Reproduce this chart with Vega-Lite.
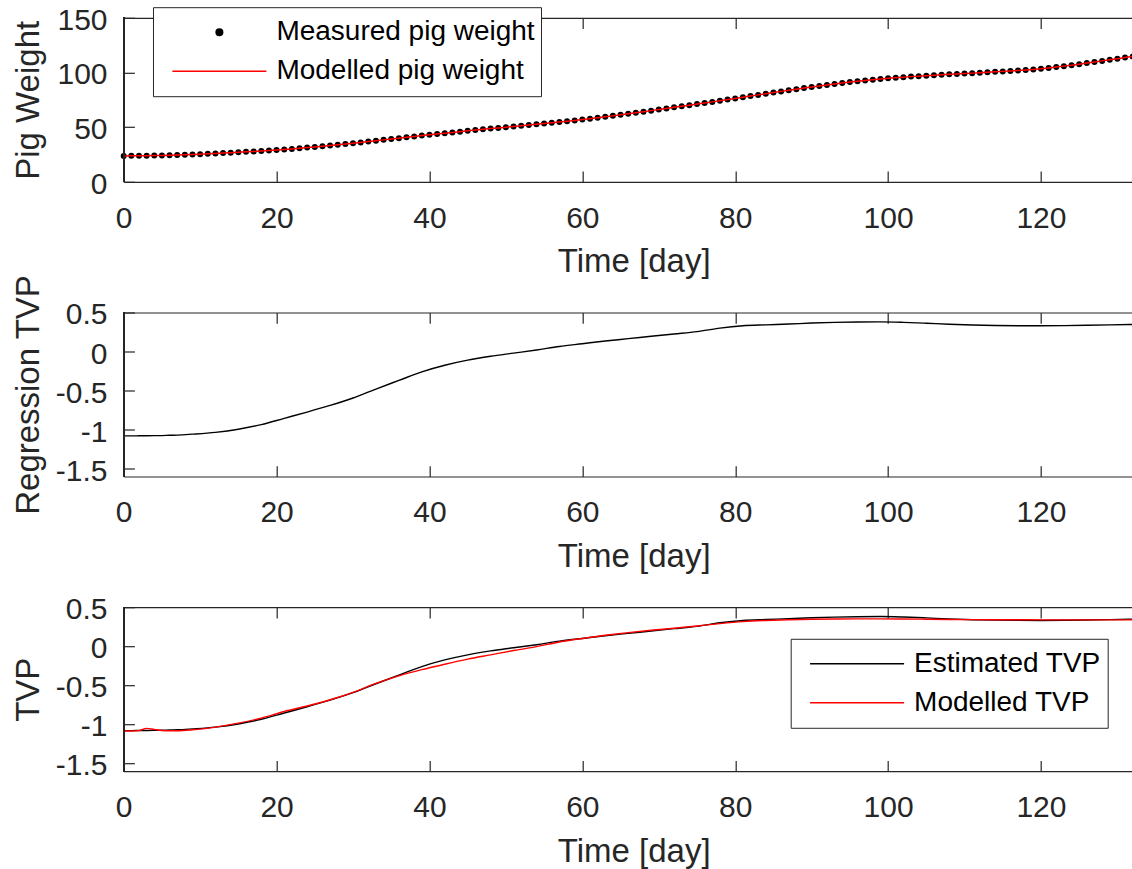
{
  "$schema": "https://vega.github.io/schema/vega-lite/v6.json",
  "autosize": {"type": "pad"},
  "padding": {"left": 11.7, "top": 4.8, "right": 0, "bottom": 0},
  "background": "white",
  "bounds": "flush",
  "spacing": 130.7,
  "resolve": {"scale": {"color": "independent"}, "legend": {"color": "independent"}},
  "config": {
    "font": "Liberation Sans",
    "view": {"stroke": null},
    "axis": {
      "grid": true,
      "gridColor": "#262626",
      "gridWidth": 1.2,
      "gridOpacity": 1,
      "ticks": false,
      "domainColor": "#262626",
      "domainWidth": 1.2,
      "labelFont": "Liberation Sans",
      "labelFontSize": 30,
      "labelColor": "#262626",
      "titleFont": "Liberation Sans",
      "titleFontSize": 33,
      "titleFontWeight": "normal",
      "titleColor": "#262626",
      "labelFlush": false,
      "labelOverlap": false
    },
    "axisX": {"labelPadding": 21.3, "titleX": 510, "titleY": 64, "gridDash": [10.7, 142.6, 10.7]},
    "axisY": {"labelPadding": 16.7, "titleX": -78, "labelOffset": 2.5, "gridDash": [10.7, 5000]},
    "legend": {
      "orient": "none",
      "labelFont": "Liberation Sans",
      "labelFontSize": 28,
      "labelColor": "#000000",
      "labelLimit": 0,
      "padding": 6,
      "strokeColor": "#262626",
      "fillColor": "#ffffff",
      "clipHeight": 38,
      "rowPadding": 1,
      "symbolOffset": 12.4,
      "labelOffset": 9
    }
  },
  "datasets": {
    "weight": [
      {"day":0,"meas":23.7,"model":23.7},{"day":1,"meas":23.75,"model":23.75},{"day":2,"meas":23.8,"model":23.8},{"day":3,"meas":23.9,"model":23.9},{"day":4,"meas":24.0,"model":24.0},{"day":5,"meas":24.1,"model":24.1},{"day":6,"meas":24.3,"model":24.3},{"day":7,"meas":24.5,"model":24.5},{"day":8,"meas":24.75,"model":24.75},{"day":9,"meas":25.0,"model":25.0},
      {"day":10,"meas":25.3,"model":25.3},{"day":11,"meas":25.6,"model":25.6},{"day":12,"meas":25.9,"model":25.9},{"day":13,"meas":26.25,"model":26.25},{"day":14,"meas":26.6,"model":26.6},{"day":15,"meas":27.0,"model":27.0},{"day":16,"meas":27.4,"model":27.4},{"day":17,"meas":27.8,"model":27.8},{"day":18,"meas":28.2,"model":28.2},{"day":19,"meas":28.65,"model":28.65},
      {"day":20,"meas":29.1,"model":29.1},{"day":21,"meas":29.6,"model":29.6},{"day":22,"meas":30.1,"model":30.1},{"day":23,"meas":30.7,"model":30.7},{"day":24,"meas":31.3,"model":31.3},{"day":25,"meas":31.9,"model":31.9},{"day":26,"meas":32.5,"model":32.5},{"day":27,"meas":33.1,"model":33.1},{"day":28,"meas":33.8,"model":33.8},{"day":29,"meas":34.5,"model":34.5},
      {"day":30,"meas":35.2,"model":35.2},{"day":31,"meas":36.0,"model":36.0},{"day":32,"meas":36.8,"model":36.8},{"day":33,"meas":37.6,"model":37.6},{"day":34,"meas":38.35,"model":38.35},{"day":35,"meas":39.1,"model":39.1},{"day":36,"meas":39.9,"model":39.9},{"day":37,"meas":40.7,"model":40.7},{"day":38,"meas":41.5,"model":41.5},{"day":39,"meas":42.25,"model":42.25},
      {"day":40,"meas":43.0,"model":43.0},{"day":41,"meas":43.7,"model":43.7},{"day":42,"meas":44.4,"model":44.4},{"day":43,"meas":45.1,"model":45.1},{"day":44,"meas":45.85,"model":45.85},{"day":45,"meas":46.6,"model":46.6},{"day":46,"meas":47.3,"model":47.3},{"day":47,"meas":48.0,"model":48.0},{"day":48,"meas":48.65,"model":48.65},{"day":49,"meas":49.3,"model":49.3},
      {"day":50,"meas":50.0,"model":50.0},{"day":51,"meas":50.65,"model":50.65},{"day":52,"meas":51.3,"model":51.3},{"day":53,"meas":51.95,"model":51.95},{"day":54,"meas":52.6,"model":52.6},{"day":55,"meas":53.3,"model":53.3},{"day":56,"meas":54.0,"model":54.0},{"day":57,"meas":54.7,"model":54.7},{"day":58,"meas":55.4,"model":55.4},{"day":59,"meas":56.1,"model":56.1},
      {"day":60,"meas":56.9,"model":56.9},{"day":61,"meas":57.7,"model":57.7},{"day":62,"meas":58.5,"model":58.5},{"day":63,"meas":59.4,"model":59.4},{"day":64,"meas":60.3,"model":60.3},{"day":65,"meas":61.3,"model":61.3},{"day":66,"meas":62.2,"model":62.2},{"day":67,"meas":63.2,"model":63.2},{"day":68,"meas":64.1,"model":64.1},{"day":69,"meas":65.1,"model":65.1},
      {"day":70,"meas":66.1,"model":66.1},{"day":71,"meas":67.1,"model":67.1},{"day":72,"meas":68.1,"model":68.1},{"day":73,"meas":69.1,"model":69.1},{"day":74,"meas":70.1,"model":70.1},{"day":75,"meas":71.1,"model":71.1},{"day":76,"meas":72.1,"model":72.1},{"day":77,"meas":73.1,"model":73.1},{"day":78,"meas":74.1,"model":74.1},{"day":79,"meas":75.2,"model":75.2},
      {"day":80,"meas":76.2,"model":76.2},{"day":81,"meas":77.3,"model":77.3},{"day":82,"meas":78.4,"model":78.4},{"day":83,"meas":79.5,"model":79.5},{"day":84,"meas":80.5,"model":80.5},{"day":85,"meas":81.6,"model":81.6},{"day":86,"meas":82.7,"model":82.7},{"day":87,"meas":83.7,"model":83.7},{"day":88,"meas":84.7,"model":84.7},{"day":89,"meas":85.7,"model":85.7},
      {"day":90,"meas":86.7,"model":86.7},{"day":91,"meas":87.6,"model":87.6},{"day":92,"meas":88.5,"model":88.5},{"day":93,"meas":89.4,"model":89.4},{"day":94,"meas":90.3,"model":90.3},{"day":95,"meas":91.2,"model":91.2},{"day":96,"meas":92.0,"model":92.0},{"day":97,"meas":92.7,"model":92.7},{"day":98,"meas":93.4,"model":93.4},{"day":99,"meas":94.1,"model":94.1},
      {"day":100,"meas":94.7,"model":94.7},{"day":101,"meas":95.2,"model":95.2},{"day":102,"meas":95.7,"model":95.7},{"day":103,"meas":96.2,"model":96.2},{"day":104,"meas":96.65,"model":96.65},{"day":105,"meas":97.1,"model":97.1},{"day":106,"meas":97.5,"model":97.5},{"day":107,"meas":97.9,"model":97.9},{"day":108,"meas":98.3,"model":98.3},{"day":109,"meas":98.65,"model":98.65},
      {"day":110,"meas":99.0,"model":99.0},{"day":111,"meas":99.4,"model":99.4},{"day":112,"meas":99.8,"model":99.8},{"day":113,"meas":100.2,"model":100.2},{"day":114,"meas":100.6,"model":100.6},{"day":115,"meas":101.0,"model":101.0},{"day":116,"meas":101.4,"model":101.4},{"day":117,"meas":101.85,"model":101.85},{"day":118,"meas":102.3,"model":102.3},{"day":119,"meas":102.8,"model":102.8},
      {"day":120,"meas":103.3,"model":103.3},{"day":121,"meas":104.1,"model":104.1},{"day":122,"meas":104.9,"model":104.9},{"day":123,"meas":105.8,"model":105.8},{"day":124,"meas":106.7,"model":106.7},{"day":125,"meas":107.6,"model":107.6},{"day":126,"meas":108.6,"model":108.6},{"day":127,"meas":109.6,"model":109.6},{"day":128,"meas":110.6,"model":110.6},{"day":129,"meas":111.6,"model":111.6},
      {"day":130,"meas":112.6,"model":112.6},{"day":131,"meas":113.65,"model":113.65},{"day":132,"meas":114.7,"model":114.7}
    ],
    "tvp": [
      {"day":0,"est":-1.08,"mod":-1.085},{"day":1,"est":-1.08,"mod":-1.085},{"day":2,"est":-1.079,"mod":-1.08},{"day":3,"est":-1.078,"mod":-1.052},{"day":4,"est":-1.077,"mod":-1.065},{"day":5,"est":-1.076,"mod":-1.078},{"day":6,"est":-1.072,"mod":-1.082},{"day":7,"est":-1.07,"mod":-1.082},{"day":9,"est":-1.058,"mod":-1.07},
      {"day":12,"est":-1.035,"mod":-1.035},{"day":15,"est":-0.995,"mod":-0.985},{"day":18,"est":-0.935,"mod":-0.92},{"day":21,"est":-0.855,"mod":-0.835},{"day":24,"est":-0.775,"mod":-0.765},{"day":27,"est":-0.69,"mod":-0.685},{"day":30,"est":-0.595,"mod":-0.59},{"day":33,"est":-0.48,"mod":-0.475},{"day":36,"est":-0.37,"mod":-0.38},{"day":39,"est":-0.26,"mod":-0.3},
      {"day":42,"est":-0.175,"mod":-0.23},{"day":45,"est":-0.11,"mod":-0.165},{"day":48,"est":-0.06,"mod":-0.11},{"day":51,"est":-0.02,"mod":-0.055},{"day":54,"est":0.02,"mod":-0.005},{"day":57,"est":0.065,"mod":0.055},{"day":60,"est":0.1,"mod":0.1},{"day":63,"est":0.135,"mod":0.14},{"day":66,"est":0.165,"mod":0.175},{"day":69,"est":0.195,"mod":0.205},
      {"day":72,"est":0.225,"mod":0.23},{"day":75,"est":0.255,"mod":0.26},{"day":78,"est":0.3,"mod":0.29},{"day":81,"est":0.33,"mod":0.315},{"day":84,"est":0.342,"mod":0.33},{"day":87,"est":0.352,"mod":0.34},{"day":90,"est":0.365,"mod":0.346},{"day":93,"est":0.373,"mod":0.349},{"day":96,"est":0.378,"mod":0.351},{"day":99,"est":0.38,"mod":0.351},
      {"day":102,"est":0.374,"mod":0.349},{"day":105,"est":0.363,"mod":0.346},{"day":108,"est":0.35,"mod":0.343},{"day":111,"est":0.34,"mod":0.341},{"day":114,"est":0.334,"mod":0.34},{"day":117,"est":0.331,"mod":0.339},{"day":120,"est":0.33,"mod":0.338},{"day":123,"est":0.332,"mod":0.338},{"day":126,"est":0.336,"mod":0.338},{"day":129,"est":0.341,"mod":0.338},{"day":132,"est":0.347,"mod":0.338}
    ]
  },
  "vconcat": [
    {
      "width": 1009,
      "height": 164,
      "data": {"name": "weight"},
      "layer": [
        {
          "mark": {"type": "point", "filled": true, "size": 36, "opacity": 1},
          "encoding": {
            "x": {"field": "day", "type": "quantitative", "scale": {"domain": [0, 132], "nice": false, "zero": false}, "axis": {"orient": "bottom", "values": [0, 20, 40, 60, 80, 100, 120], "title": "Time [day]"}},
            "y": {"field": "meas", "type": "quantitative", "scale": {"domain": [0, 150], "nice": false}, "axis": {"values": [0, 50, 100, 150], "title": "Pig Weight"}},
            "color": {
              "datum": "Measured pig weight",
              "type": "nominal",
              "scale": {"domain": ["Measured pig weight", "Modelled pig weight"], "range": ["#000000", "#ff0000"]},
              "legend": {
                "title": null,
                "legendX": 29.3,
                "legendY": -10.6,
                "encode": {
                  "symbols": {
                    "update": {
                      "shape": {"signal": "datum.value === 'Measured pig weight' ? 'M-0.07,0A0.07,0.07 0 1,1 0.07,0A0.07,0.07 0 1,1 -0.07,0Z' : 'M-1,0H1'"},
                      "size": {"value": 8836},
                      "strokeWidth": {"value": 1.5},
                      "fill": {"signal": "datum.value === 'Measured pig weight' ? '#000000' : 'transparent'"},
                      "stroke": {"signal": "datum.value === 'Measured pig weight' ? 'transparent' : '#ff0000'"},
                      "opacity": {"value": 1}
                    }
                  }
                }
              }
            }
          }
        },
        {
          "mark": {"type": "line", "strokeWidth": 1.5},
          "encoding": {
            "x": {"field": "day", "type": "quantitative", "axis": null},
            "y": {"field": "model", "type": "quantitative", "title": "Pig Weight"},
            "color": {
              "datum": "Modelled pig weight",
              "type": "nominal",
              "legend": {
                "title": null,
                "legendX": 29.3,
                "legendY": -10.6,
                "encode": {
                  "symbols": {
                    "update": {
                      "shape": {"signal": "datum.value === 'Measured pig weight' ? 'M-0.07,0A0.07,0.07 0 1,1 0.07,0A0.07,0.07 0 1,1 -0.07,0Z' : 'M-1,0H1'"},
                      "size": {"value": 8836},
                      "strokeWidth": {"value": 1.5},
                      "fill": {"signal": "datum.value === 'Measured pig weight' ? '#000000' : 'transparent'"},
                      "stroke": {"signal": "datum.value === 'Measured pig weight' ? 'transparent' : '#ff0000'"},
                      "opacity": {"value": 1}
                    }
                  }
                }
              }
            }
          }
        },
        {
          "mark": {"type": "rule", "color": "#262626", "strokeWidth": 1.2},
          "encoding": {
            "x": {"datum": 0, "type": "quantitative", "axis": {"orient": "top", "values": [0, 20, 40, 60, 80, 100, 120], "labels": false, "title": null, "grid": false, "ticks": false}}
          }
        }
      ],
      "resolve": {"axis": {"x": "independent"}}
    },
    {
      "width": 1009,
      "height": 164,
      "data": {"name": "tvp"},
      "layer": [
        {
          "mark": {"type": "line", "color": "#000000", "strokeWidth": 1.4, "interpolate": "monotone"},
          "encoding": {
            "x": {"field": "day", "type": "quantitative", "scale": {"domain": [0, 132], "nice": false, "zero": false}, "axis": {"orient": "bottom", "values": [0, 20, 40, 60, 80, 100, 120], "title": "Time [day]"}},
            "y": {"field": "est", "type": "quantitative", "scale": {"domain": [-1.6, 0.5], "nice": false, "zero": false}, "axis": {"values": [-1.5, -1, -0.5, 0, 0.5], "title": "Regression TVP", "labelExpr": "toString(datum.value)"}}
          }
        },
        {
          "mark": {"type": "rule", "color": "#262626", "strokeWidth": 1.2},
          "encoding": {
            "x": {"datum": 0, "type": "quantitative", "axis": {"orient": "top", "values": [0, 20, 40, 60, 80, 100, 120], "labels": false, "title": null, "grid": false, "ticks": false}}
          }
        }
      ],
      "resolve": {"axis": {"x": "independent"}}
    },
    {
      "width": 1009,
      "height": 164,
      "data": {"name": "tvp"},
      "layer": [
        {
          "mark": {"type": "line", "strokeWidth": 1.4, "interpolate": "monotone"},
          "encoding": {
            "x": {"field": "day", "type": "quantitative", "scale": {"domain": [0, 132], "nice": false, "zero": false}, "axis": {"orient": "bottom", "values": [0, 20, 40, 60, 80, 100, 120], "title": "Time [day]"}},
            "y": {"field": "est", "type": "quantitative", "scale": {"domain": [-1.6, 0.5], "nice": false, "zero": false}, "axis": {"values": [-1.5, -1, -0.5, 0, 0.5], "title": "TVP", "labelExpr": "toString(datum.value)"}},
            "color": {
              "datum": "Estimated TVP",
              "type": "nominal",
              "scale": {"domain": ["Estimated TVP", "Modelled TVP"], "range": ["#000000", "#ff0000"]},
              "legend": {
                "title": null,
                "legendX": 667,
                "legendY": 31.6,
                "encode": {
                  "symbols": {
                    "update": {
                      "shape": {"value": "M-1,0H1"},
                      "size": {"value": 8836},
                      "strokeWidth": {"value": 1.5},
                      "fill": {"value": "transparent"},
                      "stroke": {"signal": "datum.value === 'Estimated TVP' ? '#000000' : '#ff0000'"},
                      "opacity": {"value": 1}
                    }
                  }
                }
              }
            }
          }
        },
        {
          "mark": {"type": "line", "strokeWidth": 1.4, "interpolate": "monotone"},
          "encoding": {
            "x": {"field": "day", "type": "quantitative", "axis": null},
            "y": {"field": "mod", "type": "quantitative", "title": "TVP"},
            "color": {"datum": "Modelled TVP", "type": "nominal"}
          }
        },
        {
          "mark": {"type": "rule", "color": "#262626", "strokeWidth": 1.2},
          "encoding": {
            "x": {"datum": 0, "type": "quantitative", "axis": {"orient": "top", "values": [0, 20, 40, 60, 80, 100, 120], "labels": false, "title": null, "grid": false, "ticks": false}}
          }
        }
      ],
      "resolve": {"axis": {"x": "independent"}}
    }
  ]
}
